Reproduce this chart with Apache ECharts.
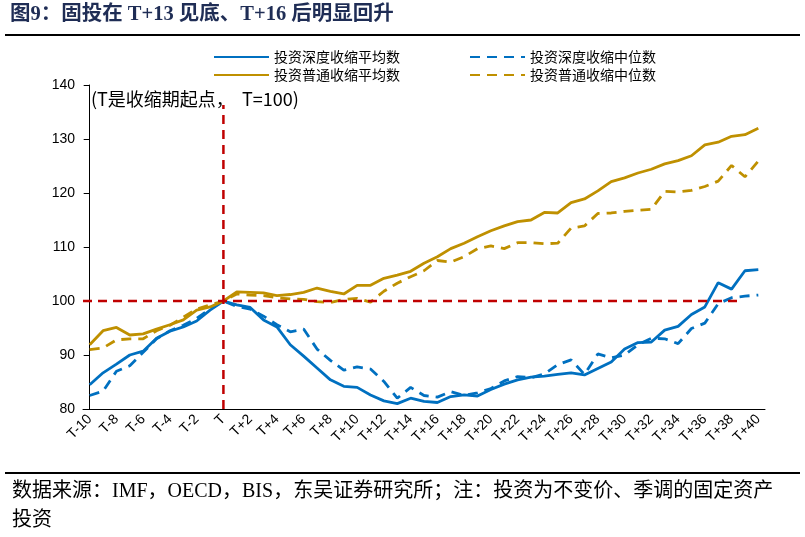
<!DOCTYPE html>
<html>
<head>
<meta charset="utf-8">
<script src="https://cdn.jsdelivr.net/npm/echarts@6/dist/echarts.min.js"></script>
<style>
  html, body { margin: 0; padding: 0; background: #fff; }
  #main { width: 805px; height: 537px; }
</style>
</head>
<body>
<div id="main"></div>
<script>
// T-10 ... T+40
const categories = []
for (let k = -10; k <= 40; k++) {
  categories.push(k === 0 ? 'T' : (k < 0 ? 'T-' + (-k) : 'T+' + k))
}

const deepMean = [
  84.5, 86.7, 88.3, 90.0, 90.7, 93.1, 94.4, 95.2, 96.3, 98.3, 100,
  99.3, 98.8, 96.5, 95.2, 91.9, 89.8, 87.6, 85.4, 84.2, 84.0,
  82.6, 81.5, 81.0, 82.0, 81.4, 81.2, 82.3, 82.6, 82.4, 83.6,
  84.6, 85.4, 85.9, 86.1, 86.4, 86.7, 86.3, 87.5, 88.7, 91.1,
  92.3, 92.4, 94.6, 95.3, 97.5, 98.9, 103.4, 102.2, 105.6, 105.8
]
const deepMedian = [
  82.5, 83.3, 87.0, 88.0, 90.5, 93.0, 94.5, 95.5, 96.8, 98.5, 100,
  99.0, 98.5, 97.2, 95.6, 94.3, 94.8, 91.1, 89.0, 87.2, 87.8,
  87.4, 85.1, 82.0, 84.0, 82.5, 82.2, 83.2, 82.5, 83.0, 83.8,
  85.2, 86.0, 85.8, 86.5, 88.2, 89.1, 86.4, 90.2, 89.5, 90.0,
  91.9, 93.1, 93.0, 92.1, 94.9, 95.9, 99.5, 100.6, 100.9, 101.1
]
const normalMean = [
  91.9, 94.5, 95.1, 93.7, 93.9, 94.8, 95.6, 96.5, 98.3, 98.9, 100,
  101.7, 101.6, 101.5, 101.0, 101.2, 101.6, 102.4, 101.8, 101.3, 102.9,
  102.9, 104.2, 104.8, 105.5, 107.0, 108.2, 109.7, 110.7, 111.9, 113.0,
  113.9, 114.7, 115.0, 116.4, 116.3, 118.2, 118.9, 120.4, 122.1, 122.8,
  123.7, 124.4, 125.4, 126.0, 126.9, 128.9, 129.4, 130.5, 130.8, 132.0
]
const normalMedian = [
  91.0, 91.3, 92.8, 93.0, 93.0, 94.5, 95.5, 97.0, 98.5, 99.3, 100,
  101.3, 101.1, 101.0, 100.6, 100.4, 100.3, 99.9, 99.7, 100.3, 100.5,
  99.8, 101.8, 103.3, 104.5, 105.6, 107.5, 107.2, 108.2, 109.7, 110.2,
  109.7, 110.8, 110.8, 110.6, 110.7, 113.5, 113.9, 116.2, 116.3, 116.6,
  116.8, 117.0, 120.3, 120.2, 120.5, 121.2, 122.2, 125.1, 123.0, 125.9
]

// reference lines, in category-index units
const refHorizontal = [[-0.5, 100], [48.5, 100]]
const refVertical = [[10, 80], [10, 136.3]]

const yTicks = { min: 80, max: 140, interval: 10 }

const BLUE = '#0070C0'
const GOLD = '#BF9000'
const RED = '#C00000'
const CJK = '"Noto Sans CJK SC", sans-serif'
const SERIF = '"Liberation Serif", "Noto Sans CJK SC", serif'

function lineSeries (name, data, color, dashed) {
  return {
    name,
    type: 'line',
    data,
    symbol: 'none',
    z: 3,
    lineStyle: { color, width: 2.8, type: dashed ? [10, 7] : 'solid', cap: 'butt' },
    itemStyle: { color }
  }
}

function refSeries (data) {
  return {
    type: 'line',
    xAxisIndex: 1,
    data,
    symbol: 'none',
    silent: true,
    z: 4,
    lineStyle: { color: RED, width: 2.5, type: [9, 6] }
  }
}

const legendBase = {
  itemWidth: 55,
  itemHeight: 14,
  itemGap: 69,
  itemStyle: { opacity: 0 },
  textStyle: { fontSize: 14, fontFamily: CJK, color: '#000' }
}

const option = {
  animation: false,
  backgroundColor: '#fff',
  grid: { left: 83, right: 40, top: 85, bottom: 128, containLabel: false },
  legend: [
    Object.assign({ data: ['投资深度收缩平均数', '投资深度收缩中位数'], left: 208, top: 45 }, legendBase),
    Object.assign({ data: ['投资普通收缩平均数', '投资普通收缩中位数'], left: 208, top: 63 }, legendBase)
  ],
  xAxis: [
    {
      type: 'category',
      data: categories,
      boundaryGap: true,
      axisLine: { lineStyle: { color: '#000', width: 1 } },
      axisTick: { interval: 0, length: 6, lineStyle: { color: '#000' } },
      axisLabel: {
        interval: 1,
        rotate: 45,
        margin: 8,
        fontSize: 14,
        fontFamily: '"Liberation Sans", Arial, sans-serif',
        color: '#000'
      },
      splitLine: { show: false }
    },
    {
      type: 'value',
      min: -0.5,
      max: 50.5,
      show: false
    }
  ],
  yAxis: {
    type: 'value',
    min: yTicks.min,
    max: yTicks.max,
    interval: yTicks.interval,
    axisLine: { show: true, lineStyle: { color: '#000', width: 1 } },
    axisTick: { show: true, length: 6, lineStyle: { color: '#000' } },
    axisLabel: {
      fontSize: 14,
      margin: 8,
      fontFamily: '"Liberation Sans", Arial, sans-serif',
      color: '#000'
    },
    splitLine: { show: false }
  },
  graphic: [
    {
      type: 'text', left: 10, top: 4,
      style: {
        text: '图9：固投在 T+13 见底、T+16 后明显回升',
        font: 'bold 20.5px ' + SERIF,
        fill: '#1F2D55'
      }
    },
    {
      type: 'rect', left: 5, top: 34,
      shape: { width: 795, height: 2 },
      style: { fill: '#000' }
    },
    {
      type: 'text', left: 91, top: 90,
      style: {
        text: '(T是收缩期起点，  T=100)',
        font: '18px ' + CJK,
        fill: '#000'
      }
    },
    {
      type: 'rect', left: 5, top: 472,
      shape: { width: 795, height: 2 },
      style: { fill: '#000' }
    },
    {
      type: 'text', left: 12, top: 482,
      style: {
        text: '数据来源：IMF，OECD，BIS，东吴证券研究所；注：投资为不变价、季调的固定资产',
        font: '20px ' + SERIF,
        fill: '#000'
      }
    },
    {
      type: 'text', left: 12, top: 511,
      style: {
        text: '投资',
        font: '20px ' + SERIF,
        fill: '#000'
      }
    }
  ],
  series: [
    lineSeries('投资深度收缩平均数', deepMean, BLUE, false),
    lineSeries('投资深度收缩中位数', deepMedian, BLUE, true),
    lineSeries('投资普通收缩平均数', normalMean, GOLD, false),
    lineSeries('投资普通收缩中位数', normalMedian, GOLD, true),
    refSeries(refHorizontal),
    refSeries(refVertical)
  ]
}

const myChart = echarts.init(document.getElementById('main'), null, { renderer: 'canvas' })
myChart.setOption(option)
</script>
</body>
</html>
